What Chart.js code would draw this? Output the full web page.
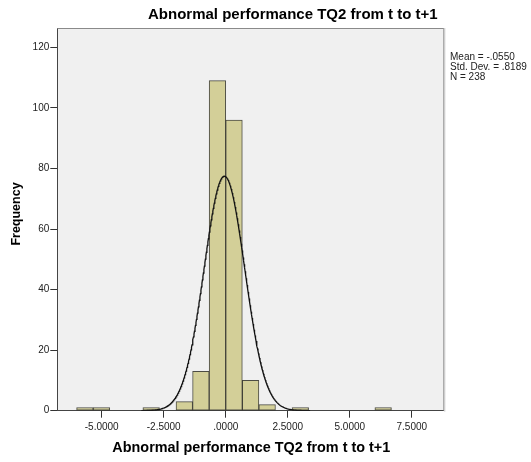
<!DOCTYPE html>
<html>
<head>
<meta charset="utf-8">
<script src="https://cdn.jsdelivr.net/npm/chart.js@4"></script>
<style>
  html, body { margin: 0; padding: 0; background: #fff; }
  #wrap { width: 531px; height: 462px; }
</style>
</head>
<body>
<div id="wrap"><canvas id="hist" width="531" height="462"></canvas></div>
<script>
// histogram bins (left edge) and their frequencies
const binWidth = 0.668;
const binLeft = [-6.012, -5.344, -3.340, -2.004, -1.336, -0.668, 0, 0.668, 1.336, 2.672, 6.012];
const counts = [1, 1, 1, 3, 13, 109, 96, 10, 2, 1, 1];

// summary stats shown in the side box, also used for the normal curve
const mean = -0.0550;
const stdDev = 0.8189;
const nObs = 238;

const xTicks = [-5, -2.5, 0, 2.5, 5, 7.5];
const xTickLabels = ['-5.0000', '-2.5000', '.0000', '2.5000', '5.0000', '7.5000'];
const yTicks = [0, 20, 40, 60, 80, 100, 120];

const titleText = 'Abnormal performance TQ2 from t to t+1';
const statsLines = ['Mean = -.0550', 'Std. Dev. = .8189', 'N = 238'];

const FONT = '"Liberation Sans", Arial, sans-serif';

const barPoints = binLeft.map((l, i) => ({ x: l + binWidth / 2, y: counts[i] }));

// expected frequency per bin under a normal with the same mean / sd
function normalFreq(x) {
  const z = (x - mean) / stdDev;
  return nObs * binWidth * Math.exp(-0.5 * z * z) / (stdDev * Math.sqrt(2 * Math.PI));
}
const curvePoints = [];
for (let x = -3.4; x <= 3.4001; x += 0.02) curvePoints.push({ x: x, y: normalFreq(x) });

// gray plot background, frame and free text
const framePlugin = {
  id: 'frame',
  beforeDraw(chart) {
    const { ctx, chartArea: a } = chart;
    ctx.save();
    ctx.fillStyle = '#f0f0f0';
    ctx.fillRect(a.left, a.top, a.right - a.left, a.bottom - a.top);
    ctx.restore();
  },
  afterDraw(chart) {
    const { ctx, chartArea: a } = chart;
    ctx.save();
    ctx.strokeStyle = '#8a8a8a';
    ctx.lineWidth = 1;
    ctx.beginPath();
    ctx.moveTo(a.left, a.top + 0.5);
    ctx.lineTo(a.right + 0.5, a.top + 0.5);
    ctx.lineTo(a.right + 0.5, a.bottom);
    ctx.stroke();
    ctx.strokeStyle = '#c8c8c8';
    ctx.beginPath();
    ctx.moveTo(a.right + 1.5, a.top);
    ctx.lineTo(a.right + 1.5, a.bottom + 1);
    ctx.stroke();

    ctx.fillStyle = '#000';
    ctx.textBaseline = 'alphabetic';
    ctx.textAlign = 'left';
    ctx.font = 'bold 15px ' + FONT;
    ctx.fillText(titleText, 148, 19);

    ctx.font = '10px ' + FONT;
    ctx.fillStyle = '#222';
    statsLines.forEach((t, i) => ctx.fillText(t, 450, 60 + i * 10));

    ctx.fillStyle = '#000';
    ctx.font = 'bold 14.4px ' + FONT;
    ctx.textAlign = 'center';
    ctx.fillText(titleText, (a.left + a.right) / 2 + 1, 452);

    ctx.save();
    ctx.translate(20, 214);
    ctx.rotate(-Math.PI / 2);
    ctx.font = 'bold 12.5px ' + FONT;
    ctx.fillText('Frequency', 0, 0);
    ctx.restore();
    ctx.restore();
  }
};

new Chart(document.getElementById('hist'), {
  type: 'bar',
  data: {
    datasets: [
      {
        type: 'line',
        data: curvePoints,
        borderColor: '#111',
        borderWidth: 1.3,
        pointRadius: 0,
        fill: false,
        order: 0
      },
      {
        type: 'bar',
        data: barPoints,
        backgroundColor: '#d3cf98',
        borderColor: 'rgba(35,35,25,0.8)',
        borderWidth: 1,
        borderSkipped: false,
        categoryPercentage: 1,
        barPercentage: 1,
        order: 1
      }
    ]
  },
  options: {
    responsive: false,
    animation: false,
    layout: { padding: { left: 0, right: 87.7, top: 28, bottom: 21.3 } },
    plugins: { legend: { display: false }, tooltip: { enabled: false }, title: { display: false } },
    scales: {
      x: {
        type: 'linear',
        min: -6.79,
        max: 8.77,
        offset: false,
        afterBuildTicks(s) { s.ticks = xTicks.map(v => ({ value: v })); },
        afterFit(s) { s.height = 30; },
        ticks: {
          padding: 4,
          color: '#222',
          font: { family: FONT, size: 10 },
          callback: (v) => xTickLabels[xTicks.indexOf(v)]
        },
        grid: { offset: false, drawOnChartArea: false, drawTicks: true, tickLength: 7, color: '#333' },
        border: { display: true, color: '#444' }
      },
      y: {
        min: 0,
        max: 126.4,
        afterBuildTicks(s) { s.ticks = yTicks.map(v => ({ value: v })); },
        afterFit(s) { s.width = 57.3; },
        ticks: {
          padding: 1,
          color: '#222',
          font: { family: FONT, size: 10 }
        },
        grid: { drawOnChartArea: false, drawTicks: true, tickLength: 7, color: '#333' },
        border: { display: true, color: '#444' }
      }
    }
  },
  plugins: [framePlugin]
});
</script>
</body>
</html>
